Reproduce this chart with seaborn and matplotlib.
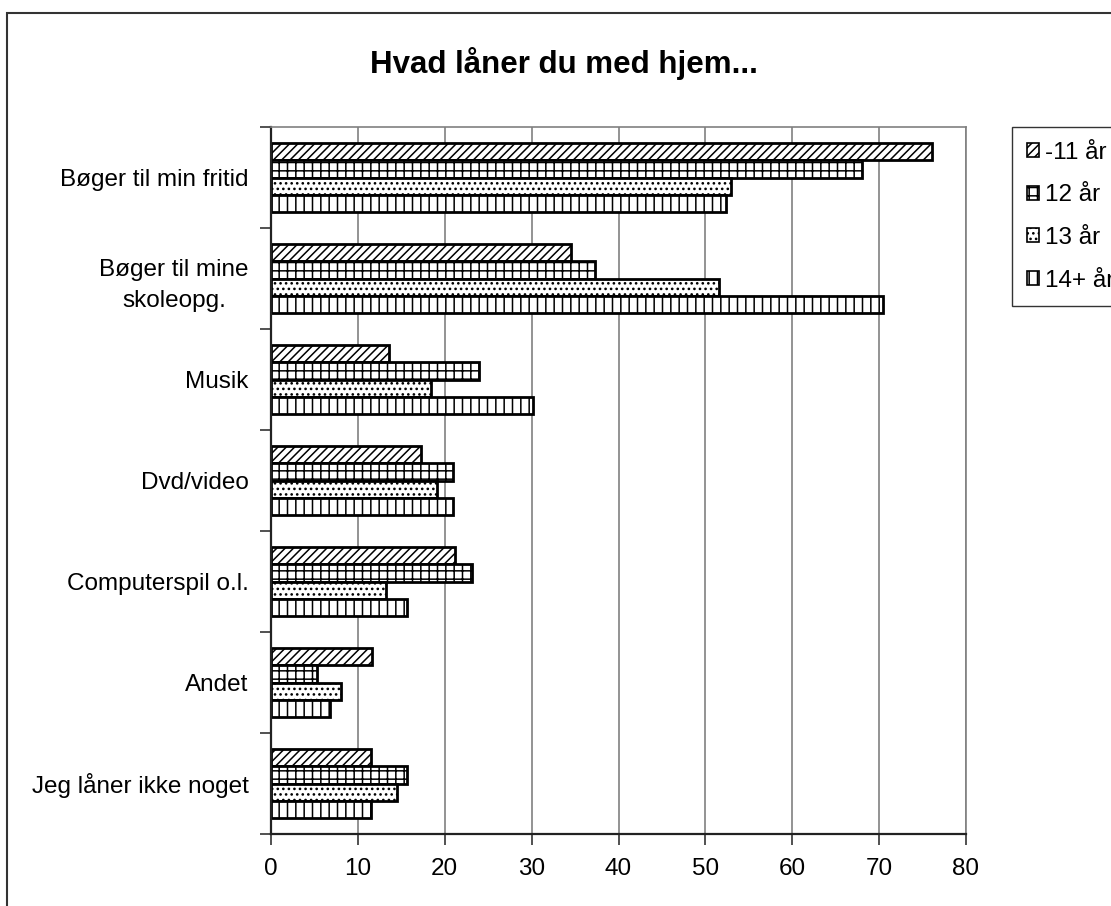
import pandas as pd
import matplotlib.pyplot as plt
import seaborn as sns
from matplotlib.patches import Rectangle, Patch
from matplotlib.ticker import FixedLocator

# categories and age groups
categories = ["Bøger til min fritid", "Bøger til mine\nskoleopg.", "Musik", "Dvd/video",
              "Computerspil o.l.", "Andet", "Jeg låner ikke noget"]
groups = ["-11 år", "12 år", "13 år", "14+ år"]

# percent per age group
v_11 = [76.1, 34.5, 13.6, 17.3, 21.2, 11.6, 11.5]
v_12 = [68.0, 37.3, 24.0, 21.0, 23.1, 5.3, 15.7]
v_13 = [53.0, 51.6, 18.4, 19.1, 13.2, 8.0, 14.5]
v_14 = [52.4, 70.5, 30.2, 21.0, 15.7, 6.8, 11.5]

hatches = ["////", "++", "...", "||"]

rows = []
for g, vals in zip(groups, [v_11, v_12, v_13, v_14]):
    for c, v in zip(categories, vals):
        rows.append({"cat": c, "group": g, "val": v})
df = pd.DataFrame(rows)

sns.set_style("white")
plt.rcParams["font.family"] = ["Liberation Sans", "DejaVu Sans"]
plt.rcParams["hatch.linewidth"] = 1.1
for k in ["text.color", "axes.labelcolor", "xtick.color", "ytick.color"]:
    plt.rcParams[k] = "black"

fig = plt.figure(figsize=(11.11, 9.06), dpi=100)
ax = fig.add_axes([271 / 1111, 1 - 834 / 906, 695 / 1111, 707 / 906])

sns.barplot(data=df, y="cat", x="val", hue="group", orient="h", ax=ax,
            width=0.69, order=categories, hue_order=groups, legend=False,
            color="white", gap=0)

for cont, h in zip(ax.containers, hatches):
    for bar in cont:
        bar.set_facecolor("white")
        bar.set_edgecolor("black")
        bar.set_linewidth(2)
        bar.set_hatch(h)

ax.set_xlim(0, 80)
ax.set_ylim(6.5, -0.5)
ax.set_xticks(range(0, 81, 10))
ax.set_xlabel("")
ax.set_ylabel("")
ax.grid(axis="x", color="#808080", lw=1.2)
ax.set_axisbelow(True)

# category labels without marks, marks between categories
ax.tick_params(axis="y", which="major", length=0, pad=16, labelsize=17.5)
ax.yaxis.set_minor_locator(FixedLocator([i - 0.5 for i in range(8)]))
ax.tick_params(axis="y", which="minor", left=True, length=8, width=1.2, color="#333333", direction="out")
ax.tick_params(axis="x", which="major", bottom=True, length=8, width=1.2, color="#333333",
               direction="out", pad=9, labelsize=17.5)
for lbl in ax.get_yticklabels():
    lbl.set_multialignment("center")
    if "\n" in lbl.get_text():
        lbl.set_linespacing(1.55)

for s in ["left", "bottom"]:
    ax.spines[s].set_color("#222222")
    ax.spines[s].set_linewidth(1.6)
for s in ["top", "right"]:
    ax.spines[s].set_color("#808080")
    ax.spines[s].set_linewidth(1.2)

fig.text(564 / 1111, 1 - 64 / 906, "Hvad låner du med hjem...", ha="center", va="center",
         fontsize=22.5, fontweight="bold")

handles = [Patch(facecolor="white", edgecolor="black", hatch=h, lw=1.2) for h in hatches]
leg = fig.legend(handles, groups, loc="upper left", bbox_to_anchor=(1012 / 1111, 1 - 127 / 906),
                 frameon=True, fancybox=False, edgecolor="black", fontsize=17.5,
                 handlelength=0.5, handleheight=0.5, handletextpad=0.25, labelspacing=0.85,
                 borderpad=0.6, borderaxespad=0)
leg.get_frame().set_linewidth(1.0)

# outer chart frame, cut by the picture edges
fig.patches.append(Rectangle((7 / 1111, -0.1), 1.2, 1 - 13 / 906 + 0.1, transform=fig.transFigure,
                             fill=False, ec="#333333", lw=1.5))

fig.savefig("out.png", dpi=100)
